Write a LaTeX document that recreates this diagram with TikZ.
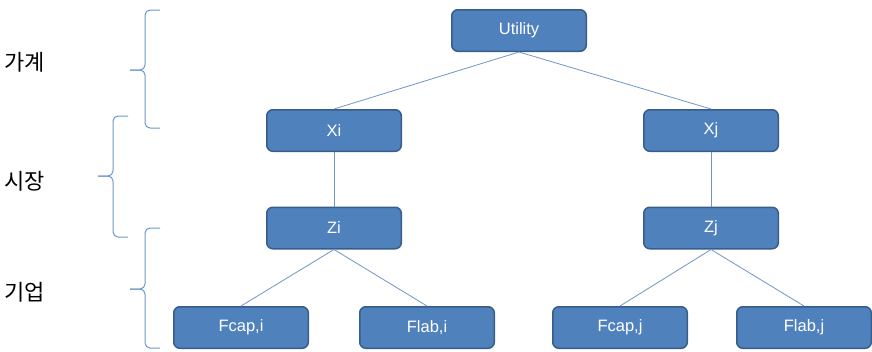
\documentclass[tikz,border=0pt]{standalone}
\usepackage{fontspec}
\setmainfont{Liberation Sans}
\newfontfamily\kofont{Noto Sans CJK KR}

\definecolor{boxfill}{HTML}{4F81BD}
\definecolor{boxline}{HTML}{385D8A}
\definecolor{linkcol}{HTML}{6D96C8}

\tikzset{
  var/.style={draw=boxline, line width=1.5pt, fill=boxfill, rounded corners=6pt,
    minimum width=134.5pt, minimum height=41.5pt, inner sep=0pt, text=white,
    font=\fontsize{16.5}{16.5}\selectfont},
  link/.style={draw=linkcol, line width=0.8pt},
  level/.style={anchor=west, inner sep=0pt, font=\kofont\fontsize{22}{22}\selectfont},
  lvlbrace/.style={draw=linkcol, line width=1pt, rounded corners=5pt}
}

\begin{document}
\begin{tikzpicture}[x=1pt,y=-1pt]
\useasboundingbox (0,0) rectangle (872,351);

% variables
\node[var] (util) at (519,30.5) {Utility};
\node[var] (xi) at (334,130.5) {Xi};
\node[var] (xj) at (711,130.5) {Xj};
\node[var] (zi) at (334,228) {Zi};
\node[var] (zj) at (711,228) {Zj};
\node[var] (fci) at (241,327.5) {Fcap,i};
\node[var] (fli) at (427,327.5) {Flab,i};
\node[var] (fcj) at (620,327.5) {Fcap,j};
\node[var] (flj) at (804,327.5) {Flab,j};

% links
\draw[link] (util.south) -- (xi.north);
\draw[link] (util.south) -- (xj.north);
\draw[link] (xi) -- (zi);
\draw[link] (xj) -- (zj);
\draw[link] (zi.south) -- (fci.north);
\draw[link] (zi.south) -- (fli.north);
\draw[link] (zj.south) -- (fcj.north);
\draw[link] (zj.south) -- (flj.north);

% levels
\node[level] (hh) at (4,62) {가계};
\node[level] (mk) at (4,181) {시장};
\node[level] (fm) at (4,292) {기업};

% braces: top end, tip, bottom end
\coordinate (b1t) at (160,10);
\coordinate (b1m) at (130,70);
\coordinate (b1b) at (160,128);
\coordinate (b2t) at (128,116);
\coordinate (b2m) at (98,176);
\coordinate (b2b) at (128,237);
\coordinate (b3t) at (160,228);
\coordinate (b3m) at (130,289);
\coordinate (b3b) at (160,348);
\foreach \b in {b1,b2,b3} {
  \draw[lvlbrace] (\b t) -- ++(-15,0) |- (\b m);
  \draw[lvlbrace] (\b m) -- ++(15,0) |- (\b b);
}

\end{tikzpicture}
\end{document}
